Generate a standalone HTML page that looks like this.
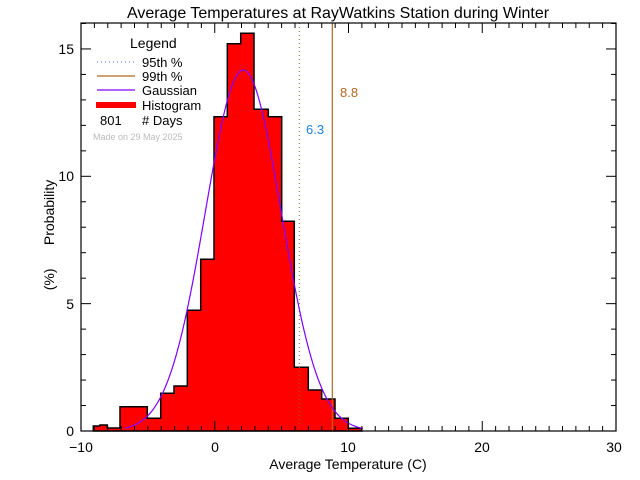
<!DOCTYPE html>
<html><head><style>body{margin:0;background:#fff}svg{display:block}text{font-family:"Liberation Sans",sans-serif}</style></head><body>
<svg width="640" height="480" xmlns="http://www.w3.org/2000/svg">
<text x="338" y="18" font-size="16" text-anchor="middle">Average Temperatures at RayWatkins Station during Winter</text>
<g fill="#ff0000" stroke="#000" stroke-width="1.5">
<path d="M93.3,431 V426 H100 V425 H107.3 V428 H120 V406.7 H147.3 V418.3 H160.7 V393.3 H174 V386 H187.3 V310.3 H200.7 V259.3 H214 V116.7 H227.3 V43.7 H240.7 V33.3 H254 V109.3 H268.3 V116.7 H281.7 V221.3 H294.3 V367.3 H308.3 V390 H321.7 V399 H335 V418.3 H348.3 V428.3 H361.7 V431 Z"/>
</g>
<line x1="299.3" y1="23" x2="299.3" y2="431" stroke="#a06030" stroke-dasharray="1,3"/>
<line x1="332.3" y1="23" x2="332.3" y2="431" stroke="#b06820" stroke-width="1.2"/>
<path id="g" fill="none" stroke="#8000ff" stroke-width="1.2" d=""/>
<script>
var d="",c=243.3,s=38,a=361;for(var x=125;x<=363;x+=1){var y=431-a*Math.exp(-(x-c)*(x-c)/(2*s*s));d+=(x==125?"M":"L")+x+","+y.toFixed(1)+" ";}document.getElementById("g").setAttribute("d",d);
</script>
<rect x="81" y="23" width="535" height="408" fill="none" stroke="#000" stroke-width="1.2"/>
<g stroke="#000" stroke-width="1">
<script>
var g=document.currentScript.parentNode,ns="http://www.w3.org/2000/svg";
function L(x1,y1,x2,y2){var l=document.createElementNS(ns,"line");l.setAttribute("x1",x1);l.setAttribute("y1",y1);l.setAttribute("x2",x2);l.setAttribute("y2",y2);g.appendChild(l);}
for(var v=-10;v<=30;v++){var x=81+(v+10)*13.375,len=(v%10==0)?10:5;L(x,431,x,431-len);L(x,23,x,23+len);}
for(var v=0;v<=16;v++){var y=431-v*25.47,len=(v%5==0)?10:5;L(81,y,81+len,y);L(616,y,616-len,y);}
</script>
</g>
<g font-size="14" text-anchor="end"><text x="74" y="436">0</text><text x="74" y="309">5</text><text x="74" y="181">10</text><text x="74" y="54">15</text></g>
<g font-size="14" text-anchor="middle"><text x="81" y="452">−10</text><text x="215" y="452">0</text><text x="348" y="452">10</text><text x="482" y="452">20</text><text x="614" y="452">30</text></g>
<text x="348" y="469" font-size="14" text-anchor="middle">Average Temperature (C)</text>
<text transform="translate(54,235) rotate(-90)" font-size="14" text-anchor="middle" xml:space="preserve">(%)      Probability</text>
<text x="130" y="48" font-size="14">Legend</text>
<line x1="97" y1="62" x2="135" y2="62" stroke="#3070c0" stroke-dasharray="1,3"/>
<line x1="97" y1="76" x2="135" y2="76" stroke="#b06820" stroke-width="1.2"/>
<line x1="97" y1="90" x2="135" y2="90" stroke="#8000ff" stroke-width="1.2"/>
<rect x="96" y="102" width="40" height="6" fill="#ff0000"/>
<g font-size="13"><text x="142" y="67">95th %</text><text x="142" y="81">99th %</text><text x="142" y="95">Gaussian</text><text x="142" y="110">Histogram</text><text x="100" y="125">801</text><text x="142" y="125"># Days</text></g>
<text x="93" y="140" font-size="9" fill="#bbb">Made on 29 May 2025</text>
<text x="340" y="97" font-size="13" fill="#b06820">8.8</text>
<text x="306" y="134" font-size="13" fill="#2080e0">6.3</text>
</svg>
</body></html>
